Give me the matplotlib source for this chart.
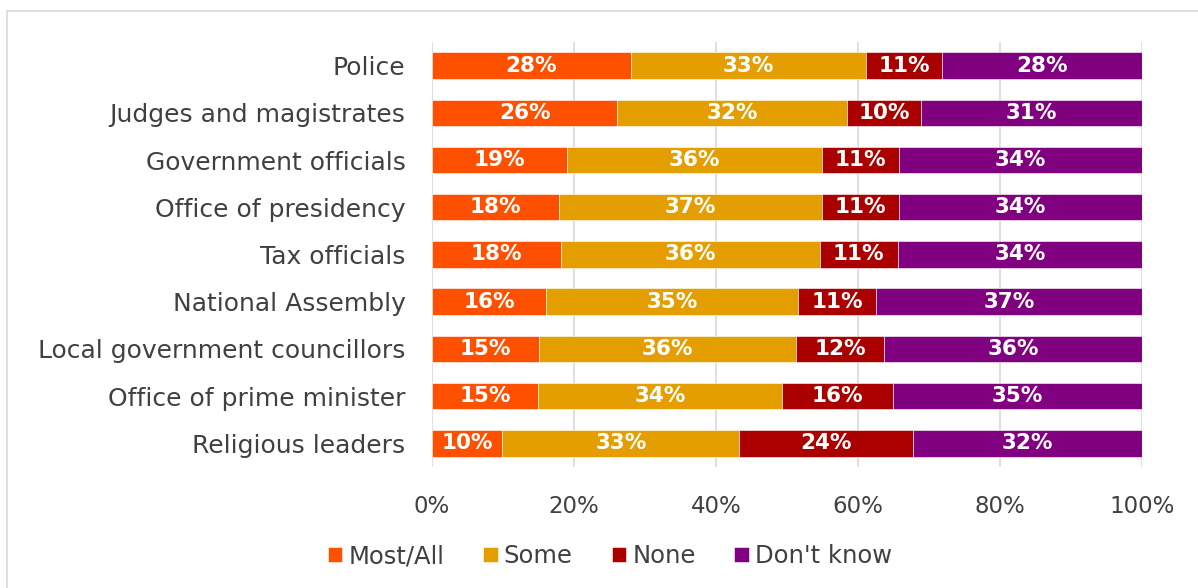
import matplotlib.pyplot as plt
from matplotlib.patches import Rectangle
import numpy as np

plt.rcParams['font.family'] = ['DejaVu Sans']

# Datos
categorias = ["Police", "Judges and magistrates", "Government officials",
              "Office of presidency", "Tax officials", "National Assembly",
              "Local government councillors", "Office of prime minister",
              "Religious leaders"]
series = ["Most/All", "Some", "None", "Don't know"]
most_all = [28.0, 26.1, 19.0, 17.9, 18.2, 16.1, 15.1, 14.9, 9.9]
some = [33.1, 32.4, 35.9, 37.0, 36.4, 35.4, 36.2, 34.4, 33.4]
none = [10.7, 10.3, 10.8, 10.9, 11.0, 11.1, 12.4, 15.6, 24.4]
dont_know = [28.2, 31.2, 34.3, 34.2, 34.4, 37.4, 36.3, 35.1, 32.3]
colores = ["#FF5000", "#E59E00", "#AA0000", "#800080"]

fig = plt.figure(figsize=(11.98, 5.88), dpi=100)
ax = fig.add_axes([0.3606, 0.2058, 0.9533 - 0.3606, 0.9286 - 0.2058])

# marco gris alrededor del grafico
fig.patches.append(Rectangle((7 / 1198, -0.05), 1.1, 1 - 11 / 588 + 0.05,
                             transform=fig.transFigure, fill=False,
                             edgecolor="#D9D9D9", linewidth=1.2))

y = np.arange(len(categorias))
izq = np.zeros(len(categorias))
for nombre, vals, col in zip(series, [most_all, some, none, dont_know], colores):
    vals = np.array(vals)
    barras = ax.barh(y, vals, left=izq, height=0.56, color=col, label=nombre,
                     edgecolor="white", linewidth=0.4, zorder=3)
    for b, v in zip(barras, vals):
        ax.text(b.get_x() + b.get_width() / 2, b.get_y() + b.get_height() / 2,
                f"{round(v):.0f}%", ha="center", va="center", color="white",
                fontsize=15.5, fontweight="bold", zorder=4)
    izq += vals

ax.set_yticks(y)
ax.set_yticklabels(categorias, fontsize=18, color="#404040")
ax.set_ylim(len(categorias) - 0.5, -0.5)
ax.set_xlim(0, 100)
ax.set_xticks(range(0, 101, 20))
ax.set_xticklabels([f"{t}%" for t in range(0, 101, 20)], fontsize=16.5, color="#404040")
ax.tick_params(length=0)
ax.tick_params(axis="x", pad=20)
ax.tick_params(axis="y", pad=19)
ax.xaxis.grid(True, color="#D9D9D9", linewidth=1.2, zorder=0)
ax.set_axisbelow(True)
for s in ax.spines.values():
    s.set_visible(False)

fig.legend(loc="center", bbox_to_anchor=(610 / 1198, 1 - 556 / 588), ncol=4, frameon=False,
           fontsize=17.5, handlelength=0.6, handleheight=0.6, handletextpad=0.25,
           columnspacing=1.6, labelcolor="#404040")

fig.savefig("out.png", dpi=100)
